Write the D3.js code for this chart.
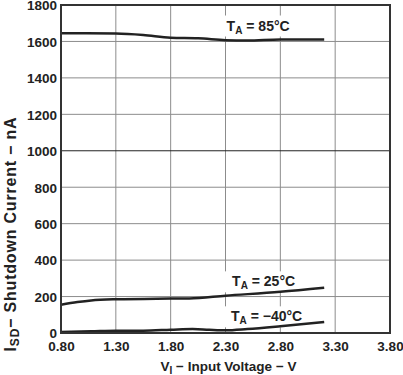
<!DOCTYPE html>
<html><head><meta charset="utf-8">
<script src="https://cdn.jsdelivr.net/npm/d3@7"></script>
<style>
html,body{margin:0;padding:0;background:#fff;}
svg{display:block;font-family:"Liberation Sans",Arial,sans-serif;}
</style></head>
<body><svg id="c" width="403" height="375"></svg>
<script>
const xTicks = [0.80, 1.30, 1.80, 2.30, 2.80, 3.30, 3.80];
const yTicks = [0, 200, 400, 600, 800, 1000, 1200, 1400, 1600, 1800];

const v85 = [0.80, 1.30, 1.55, 1.80, 2.05, 2.30, 2.50, 2.80, 3.20];
const i85 = [1645, 1643, 1635, 1620, 1617, 1607, 1605, 1611, 1611];

const v25 = [0.80, 0.95, 1.075, 1.30, 1.80, 1.97, 2.30, 2.80, 3.20];
const i25 = [155, 170, 179, 185, 189, 190, 205, 226, 248];

const vm40 = [0.80, 1.075, 1.30, 1.55, 1.80, 2.00, 2.15, 2.30, 2.50, 2.80, 3.20];
const im40 = [5, 9, 13, 13, 18, 22, 18, 15, 22, 37, 60];

const seriesLabels = ["85", "25", "\u221240"];
const labelV = [2.31, 2.36, 2.35];   // label start voltage
const labelI = [1660, 256, 64];      // label baseline current

const W = 403, H = 375;
const m = {l: 61, r: 13, t: 5, b: 42};
const svg = d3.select("#c");
const x = d3.scaleLinear().domain([0.8, 3.8]).range([m.l, W - m.r]);
const y = d3.scaleLinear().domain([0, 1800]).range([H - m.b, m.t]);

const g = svg.append("g");
// grid
g.selectAll(".vg").data(xTicks.slice(1, -1)).join("line")
  .attr("x1", d => x(d)).attr("x2", d => x(d))
  .attr("y1", y(0)).attr("y2", y(1800))
  .attr("stroke", "#8c8c8c").attr("stroke-width", 1);
g.selectAll(".hg").data(yTicks.slice(1, -1)).join("line")
  .attr("x1", x(0.8)).attr("x2", x(3.8))
  .attr("y1", d => y(d)).attr("y2", d => y(d))
  .attr("stroke", d => d === 1000 ? "#222" : "#8c8c8c").attr("stroke-width", 1);

// labels with white boxes
seriesLabels.forEach((s, i) => {
  const t = g.append("text").attr("x", x(labelV[i])).attr("y", y(labelI[i]))
    .attr("font-size", 14).attr("font-weight", "bold").attr("fill", "#222");
  t.append("tspan").text("T");
  t.append("tspan").text("A").attr("font-size", 10).attr("dy", 3);
  t.append("tspan").text(" = " + s + "\u00B0C").attr("dy", -3);
  const bb = t.node().getBBox();
  g.insert("rect", "text").attr("x", bb.x - 8).attr("y", bb.y - 2)
    .attr("width", bb.width + 16).attr("height", bb.height + 3).attr("fill", "#fff");
});

// curves
const line = d3.line().x(d => x(d[0])).y(d => y(d[1])).curve(d3.curveMonotoneX);
[[v85, i85], [v25, i25], [vm40, im40]].forEach(([vs, is]) => {
  g.append("path").attr("d", line(vs.map((v, k) => [v, is[k]])))
    .attr("fill", "none").attr("stroke", "#222").attr("stroke-width", 2.5);
});

// frame
g.append("rect").attr("x", x(0.8)).attr("y", y(1800))
  .attr("width", x(3.8) - x(0.8)).attr("height", y(0) - y(1800))
  .attr("fill", "none").attr("stroke", "#333").attr("stroke-width", 2);

// axes
const xa = svg.append("g").attr("transform", `translate(0,${y(0)})`)
  .call(d3.axisBottom(x).tickValues(xTicks).tickFormat(d3.format(".2f")).tickSize(0).tickPadding(8));
const ya = svg.append("g").attr("transform", `translate(${x(0.8)},0)`)
  .call(d3.axisLeft(y).tickValues(yTicks).tickFormat(d3.format("d")).tickSize(0).tickPadding(4));
[xa, ya].forEach(a => {
  a.select(".domain").remove();
  a.selectAll("text").attr("font-size", 13.5).attr("font-weight", "bold")
    .attr("fill", "#222").attr("font-family", "Liberation Sans, Arial, sans-serif");
});
ya.selectAll("text").attr("dy", "0.36em");

// axis titles
const xt = svg.append("text").attr("x", (x(0.8) + x(3.8)) / 2 + 3).attr("y", 370.5)
  .attr("text-anchor", "middle").attr("font-size", 13.5).attr("font-weight", "bold").attr("fill", "#222");
xt.append("tspan").text("V");
xt.append("tspan").text("I").attr("font-size", 10).attr("dy", 3);
xt.append("tspan").text(" \u2212 Input Voltage \u2212 V").attr("dy", -3);

const yt = svg.append("text").attr("transform", "translate(16,234) rotate(-90)")
  .attr("text-anchor", "middle").attr("font-size", 16).attr("font-weight", "bold")
  .attr("letter-spacing", 0.8).attr("fill", "#222");
yt.append("tspan").text("I");
yt.append("tspan").text("SD").attr("font-size", 12).attr("dy", 3);
yt.append("tspan").text("\u2212 Shutdown Current \u2212 nA").attr("dy", -3);
</script></body></html>
